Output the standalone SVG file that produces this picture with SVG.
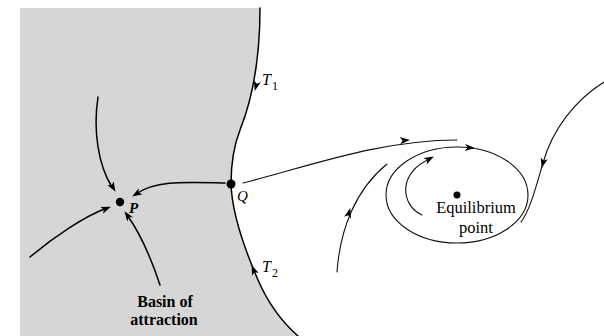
<svg xmlns="http://www.w3.org/2000/svg" width="604" height="336" viewBox="0 0 604 336">
<style>
.c{fill:none;stroke:#000;stroke-width:1.5;stroke-linecap:round}
.t{fill:none;stroke:#111;stroke-width:1.1;stroke-linecap:round}
.lbl{font-family:"Liberation Serif","Times New Roman",serif;fill:#000}
.it{font-style:italic}
.b{font-weight:bold}
</style>
<defs>
<path id="ah" d="M1,0 L-9,-3.6 L-6.5,0 L-9,3.6 Z" fill="#000"/>
</defs>
<g id="basin">
<path d="M20,8 L260,8 C260,60 252,100 240,130 C233,148 231,165 231,184 C232,215 245,250 258,280 C268,303 282,322 298,336 L20,336 Z" fill="#d6d6d6"/>
<path class="c" d="M260,8 C260,60 252,100 240,130 C233,148 231,165 231,184 C232,215 245,250 258,280 C268,303 282,322 298,336"/>
<text class="lbl b" x="165" y="307" font-size="16" text-anchor="middle">Basin of</text>
<text class="lbl b" x="164" y="325" font-size="16" text-anchor="middle">attraction</text>
</g>
<g id="connectors">
<path class="c" d="M98,97 C93,130 98,165 112,187"/>
<path class="c" d="M225,183 C185,182 155,180 136,194"/>
<path class="c" d="M30,257 C55,236 85,216 107,208"/>
<path class="c" d="M160,285 C150,255 138,230 127,215"/>
<path class="t" d="M243,183 C310,166 380,140 457,140"/>
<ellipse class="t" cx="457" cy="195" rx="71" ry="48"/>
<path class="t" d="M604,82 C575,100 552,130 543,163 C535,190 530,210 521,222"/>
<path class="t" d="M422,215 C400,205 398,172 430,159"/>
<path class="t" d="M337,272 C340,230 355,190 387,164"/>
<use href="#ah" transform="translate(115,191) rotate(60)"/>
<use href="#ah" transform="translate(133,196) rotate(148)"/>
<use href="#ah" transform="translate(110,207) rotate(-22)"/>
<use href="#ah" transform="translate(125,212) rotate(-125)"/>
<use href="#ah" transform="translate(255,90) rotate(105)"/>
<use href="#ah" transform="translate(252,266) rotate(-112)"/>
<use href="#ah" transform="translate(409,140) rotate(-4)"/>
<use href="#ah" transform="translate(474,148) rotate(3)"/>
<use href="#ah" transform="translate(433,157) rotate(-28)"/>
<use href="#ah" transform="translate(350,209) rotate(-74)"/>
<use href="#ah" transform="translate(542,167) rotate(104)"/>
</g>
<g id="node-P">
<circle cx="120" cy="202" r="4.2" fill="#000"/>
<text class="lbl it b" x="129" y="213" font-size="15">P</text>
</g>
<g id="node-Q">
<circle cx="231" cy="184" r="4.5" fill="#000"/>
<text class="lbl it" x="237" y="201" font-size="15">Q</text>
</g>
<g id="label-T1">
<text class="lbl it" x="262" y="85" font-size="16">T<tspan font-style="normal" font-size="12" dx="1" dy="5">1</tspan></text>
</g>
<g id="label-T2">
<text class="lbl it" x="262" y="272" font-size="16">T<tspan font-style="normal" font-size="12" dx="1" dy="5">2</tspan></text>
</g>
<g id="node-eq">
<circle cx="457" cy="195" r="3.5" fill="#000"/>
<text class="lbl" x="476" y="213" font-size="16.5" text-anchor="middle">Equilibrium</text>
<text class="lbl" x="476" y="233" font-size="16.5" text-anchor="middle">point</text>
</g>
</svg>
